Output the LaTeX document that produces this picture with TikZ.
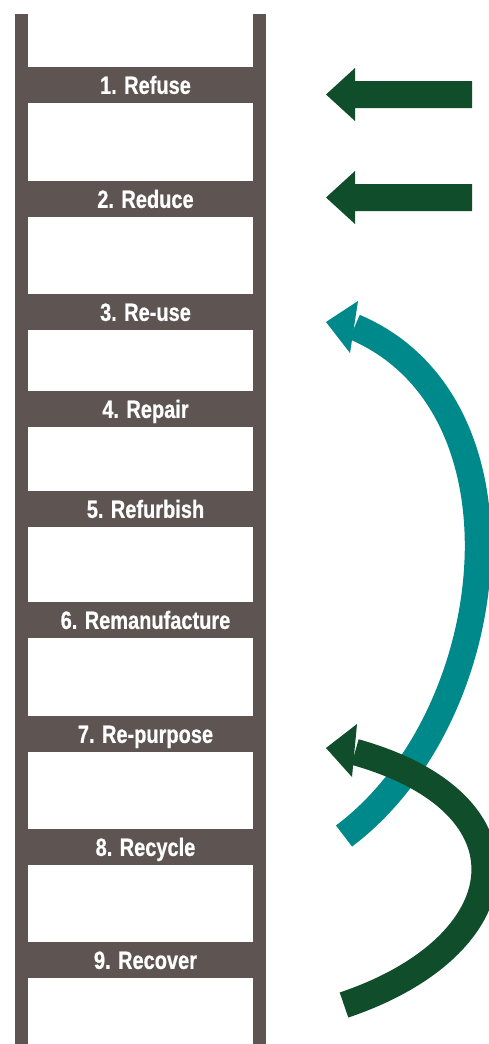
\documentclass[tikz,border=0pt]{standalone}
\usepackage{fontspec}
\setmainfont{Liberation Sans}[FakeStretch=0.8,BoldFeatures={FakeBold=0.6}]
\definecolor{ladder}{HTML}{5E5553}
\definecolor{dkgreen}{HTML}{0F4D2B}
\definecolor{tealc}{HTML}{00898B}
\tikzset{
  rung/.style={fill=ladder, draw=none, minimum width=240pt, minimum height=36pt,
    inner sep=0pt, text height=17.8pt, text depth=0pt, text=white,
    font=\fontsize{25}{25}\selectfont\bfseries},
  rail/.style={fill=ladder},
  bigshaft/.style={line width=26.5pt, line cap=butt},
}
\begin{document}
\begin{tikzpicture}[x=1pt,y=-1pt]
\useasboundingbox (0,0) rectangle (489,1044);
\fill[white] (0,0) rectangle (489,1044);
% rails
\fill[rail] (15,14) rectangle (28,1044);
\fill[rail] (253,14) rectangle (266,1044);
% rungs
\node[rung] (r1) at (145.5,85) {1. Refuse};
\node[rung] (r2) at (145.5,199) {2. Reduce};
\node[rung] (r3) at (145.5,312) {3. Re-use};
\node[rung] (r4) at (145.5,409) {4. Repair};
\node[rung] (r5) at (145.5,509) {5. Refurbish};
\node[rung] (r6) at (145.5,620) {6. Remanufacture};
\node[rung] (r7) at (145.5,734) {7. Re-purpose};
\node[rung] (r8) at (145.5,847) {8. Recycle};
\node[rung] (r9) at (145.5,960) {9. Recover};
% straight arrows
\coordinate (a1) at (326,94.5);
\coordinate (a2) at (326,197.5);
\fill[dkgreen] (472,81) -- (355,81) -- (355,68) -- (a1) -- (355,121) -- (355,108) -- (472,108) -- cycle;
\fill[dkgreen] (472,184) -- (355,184) -- (355,171) -- (a2) -- (355,224) -- (355,211) -- (472,211) -- cycle;
% teal curved arrow (8 -> 3)
\coordinate (ts) at (344,836);
\coordinate (te) at (354.5,327);
\coordinate (tt) at (326,322);
\draw[tealc, bigshaft] (ts) .. controls (502.4,717.2) and (538,405) .. (te);
\fill[tealc] (tt) -- (358,301) -- (350,353) -- cycle;
% green curved arrow (9 -> 7)
\coordinate (gs) at (344,1005);
\coordinate (ge) at (355,752);
\coordinate (gt) at (326,748);
\draw[dkgreen, bigshaft] (gs) .. controls (518.8,946.1) and (540,804) .. (ge);
\fill[dkgreen] (gt) -- (357,724) -- (352,777) -- cycle;
\end{tikzpicture}
\end{document}
